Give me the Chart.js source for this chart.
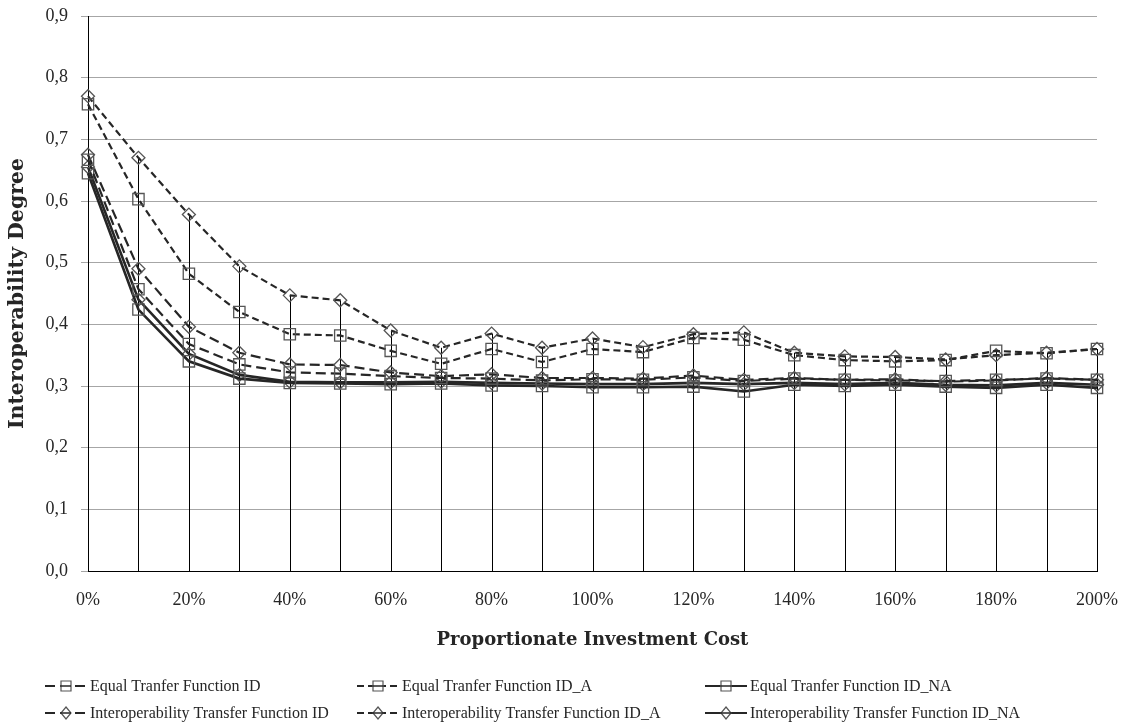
<!DOCTYPE html>
<html>
<head>
<meta charset="utf-8">
<script src="https://cdn.jsdelivr.net/npm/chart.js@4.4.1/dist/chart.umd.min.js"></script>
<style>
  html, body { margin: 0; padding: 0; background: #fff; }
  #wrap { width: 1125px; height: 728px; position: relative; }
</style>
</head>
<body>
<div id="wrap"><canvas id="chart"></canvas></div>
<script>
const categories = ['0%', '10%', '20%', '30%', '40%', '50%', '60%', '70%', '80%', '90%', '100%',
  '110%', '120%', '130%', '140%', '150%', '160%', '170%', '180%', '190%', '200%'];

const equalID = [0.667, 0.457, 0.368, 0.335, 0.322, 0.320, 0.316, 0.313, 0.312, 0.309, 0.311,
  0.310, 0.314, 0.308, 0.312, 0.310, 0.309, 0.308, 0.310, 0.312, 0.310];
const equalIDA = [0.757, 0.603, 0.482, 0.420, 0.384, 0.382, 0.357, 0.336, 0.360, 0.339, 0.360,
  0.355, 0.378, 0.375, 0.350, 0.342, 0.340, 0.342, 0.357, 0.353, 0.360];
const equalIDNA = [0.645, 0.424, 0.340, 0.312, 0.305, 0.304, 0.303, 0.304, 0.301, 0.300, 0.298,
  0.298, 0.299, 0.291, 0.302, 0.300, 0.302, 0.299, 0.297, 0.302, 0.297];
const interopID = [0.675, 0.490, 0.396, 0.354, 0.335, 0.334, 0.322, 0.316, 0.319, 0.313, 0.313,
  0.312, 0.317, 0.310, 0.313, 0.310, 0.311, 0.307, 0.309, 0.313, 0.310];
const interopIDA = [0.770, 0.670, 0.578, 0.494, 0.447, 0.439, 0.390, 0.362, 0.385, 0.362, 0.377,
  0.363, 0.384, 0.387, 0.354, 0.348, 0.347, 0.343, 0.350, 0.354, 0.360];
const interopIDNA = [0.655, 0.440, 0.352, 0.318, 0.307, 0.306, 0.306, 0.307, 0.305, 0.304, 0.303,
  0.303, 0.305, 0.303, 0.305, 0.303, 0.305, 0.302, 0.301, 0.305, 0.302];

const yTicks = [0, 0.1, 0.2, 0.3, 0.4, 0.5, 0.6, 0.7, 0.8, 0.9];

const SERIF = '"Liberation Serif", "DejaVu Serif", serif';
const TITLE_SERIF = '"DejaVu Serif", "Liberation Serif", serif';
const LINE = '#262626';
const MARK = '#555555';
const LONG_DASH = [10, 5];
const SHORT_DASH = [7, 4];

const series = (label, data, dash, style) => ({
  label,
  data,
  borderColor: LINE,
  borderWidth: dash.length ? 2.2 : 2.6,
  borderDash: dash,
  pointStyle: style,
  pointRadius: style === 'rect' ? 8 : 6.5,
  pointHoverRadius: style === 'rect' ? 8 : 6.5,
  pointBorderColor: MARK,
  pointBorderWidth: 1.3,
  pointBackgroundColor: 'rgba(0,0,0,0)',
  tension: 0,
  fill: false,
  clip: false
});

// vertical drop lines from the highest point of each category down to zero
const dropLines = {
  id: 'dropLines',
  beforeDatasetsDraw(chart) {
    const { ctx, scales: { x, y } } = chart;
    ctx.save();
    ctx.strokeStyle = '#000';
    ctx.lineWidth = 1;
    categories.forEach((c, i) => {
      const top = Math.max(...chart.data.datasets.map(d => d.data[i]));
      const px = Math.round(x.getPixelForValue(i)) + 0.5;
      ctx.beginPath();
      ctx.moveTo(px, y.getPixelForValue(top));
      ctx.lineTo(px, y.getPixelForValue(0));
      ctx.stroke();
    });
    ctx.restore();
  }
};

// legend with line + marker samples, three columns by two rows
const lineLegend = {
  id: 'lineLegend',
  afterDraw(chart) {
    const { ctx } = chart;
    const colX = [45, 357, 705];
    const rowY = [686, 713];
    ctx.save();
    chart.data.datasets.forEach((ds, i) => {
      const x0 = colX[i % 3];
      const y0 = rowY[Math.floor(i / 3)];
      ctx.strokeStyle = LINE;
      ctx.lineWidth = 2;
      ctx.setLineDash(ds.borderDash);
      ctx.beginPath();
      ctx.moveTo(x0, y0);
      ctx.lineTo(x0 + 42, y0);
      ctx.stroke();
      ctx.setLineDash([]);
      ctx.fillStyle = '#fff';
      ctx.strokeStyle = MARK;
      ctx.lineWidth = 1.2;
      const cx = x0 + 21;
      ctx.beginPath();
      if (ds.pointStyle === 'rect') {
        ctx.rect(cx - 5, y0 - 5, 10, 10);
      } else {
        ctx.moveTo(cx, y0 - 6);
        ctx.lineTo(cx + 5, y0);
        ctx.lineTo(cx, y0 + 6);
        ctx.lineTo(cx - 5, y0);
        ctx.closePath();
      }
      ctx.fill();
      ctx.stroke();
      ctx.strokeStyle = LINE;
      ctx.lineWidth = 1.5;
      ctx.beginPath();
      ctx.moveTo(cx - 5, y0);
      ctx.lineTo(cx + 5, y0);
      ctx.stroke();
      ctx.fillStyle = '#262626';
      ctx.font = '16px ' + SERIF;
      ctx.textBaseline = 'middle';
      ctx.textAlign = 'left';
      ctx.fillText(ds.label, x0 + 45, y0 + 1);
    });
    ctx.restore();
  }
};

new Chart(document.getElementById('chart'), {
  type: 'line',
  data: {
    labels: categories,
    datasets: [
      series('Equal Tranfer Function ID', equalID, LONG_DASH, 'rect'),
      series('Equal Tranfer Function ID_A', equalIDA, SHORT_DASH, 'rect'),
      series('Equal Tranfer Function ID_NA', equalIDNA, [], 'rect'),
      series('Interoperability Transfer Function ID', interopID, LONG_DASH, 'rectRot'),
      series('Interoperability Transfer Function ID_A', interopIDA, SHORT_DASH, 'rectRot'),
      series('Interoperability Transfer Function ID_NA', interopIDNA, [], 'rectRot')
    ]
  },
  options: {
    responsive: true,
    maintainAspectRatio: false,
    animation: false,
    layout: { padding: { left: 0, right: 28, top: 16, bottom: 76 } },
    plugins: {
      legend: { display: false },
      tooltip: { enabled: false }
    },
    scales: {
      x: {
        offset: false,
        grid: { display: false, drawTicks: false },
        border: { display: true, color: '#000', width: 1 },
        ticks: {
          color: '#262626',
          font: { family: SERIF, size: 18 },
          padding: 18,
          maxRotation: 0,
          autoSkip: false,
          callback: (v, i) => (i % 2 === 0 ? categories[i] : '')
        },
        title: {
          display: true,
          text: 'Proportionate Investment Cost',
          color: '#262626',
          font: { family: TITLE_SERIF, size: 18, weight: 'bold' },
          padding: { top: 0, bottom: 1 }
        },
        afterFit: s => {
          s.height = 81;
          s.paddingLeft = 0;
          s.paddingRight = 0;
        }
      },
      y: {
        min: 0,
        max: 0.9,
        afterBuildTicks: s => { s.ticks = yTicks.map(v => ({ value: v })); },
        grid: { color: '#a6a6a6', lineWidth: 1, tickLength: 7, tickColor: '#a6a6a6' },
        border: { display: true, color: '#000', width: 1 },
        ticks: {
          color: '#262626',
          font: { family: SERIF, size: 18 },
          padding: 13,
          callback: v => v.toFixed(1).replace('.', ',')
        },
        title: {
          display: true,
          text: 'Interoperability Degree',
          color: '#262626',
          font: { family: TITLE_SERIF, size: 20.5, weight: 'bold' },
          padding: { top: 5, bottom: 0 }
        },
        afterFit: s => {
          s.width = 88;
          s.paddingTop = 0;
          s.paddingBottom = 0;
        }
      }
    }
  },
  plugins: [dropLines, lineLegend]
});
</script>
</body>
</html>
